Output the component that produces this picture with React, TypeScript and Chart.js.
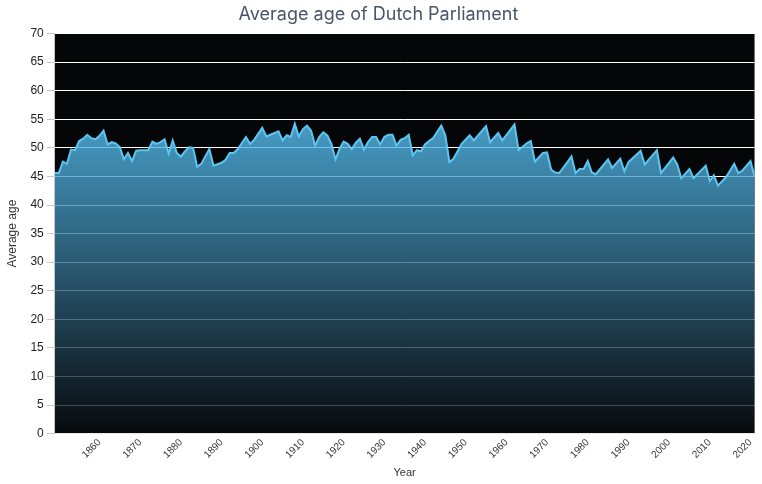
import React, { useEffect, useRef } from "react";
import { Chart, registerables } from "chart.js";

Chart.register(...registerables);

const TITLE = "Average age of Dutch Parliament";
const X_TITLE = "Year";
const Y_TITLE = "Average age";

const YEARS = [
  1849, 1850, 1851, 1852, 1853, 1854, 1855, 1856, 1857, 1858, 1859, 1860, 1861, 1862, 1863, 1864,
  1865, 1866, 1867, 1868, 1869, 1870, 1872, 1873, 1874, 1875, 1876, 1877, 1878, 1879, 1880, 1881,
  1882, 1883, 1884, 1885, 1887, 1888, 1890, 1891, 1892, 1893, 1894, 1896, 1897, 1898, 1900, 1901,
  1902, 1904, 1905, 1906, 1907, 1908, 1909, 1910, 1911, 1912, 1913, 1914, 1915, 1916, 1917, 1918,
  1919, 1920, 1921, 1922, 1923, 1924, 1925, 1926, 1927, 1928, 1929, 1930, 1931, 1932, 1933, 1934,
  1935, 1936, 1937, 1938, 1939, 1940, 1941, 1942, 1944, 1945, 1946, 1947, 1949, 1951, 1952, 1955,
  1956, 1958, 1959, 1962, 1963, 1965, 1966, 1967, 1969, 1970, 1971, 1972, 1973, 1975, 1976, 1977,
  1978, 1979, 1980, 1981, 1982, 1985, 1986, 1988, 1989, 1990, 1993, 1994, 1997, 1998, 2001, 2002,
  2003, 2005, 2006, 2009, 2010, 2011, 2012, 2014, 2016, 2017, 2018, 2020, 2021,
];

const AGES = [
  45.6, 45.6, 47.6, 47.2, 49.7, 49.6, 51.2, 51.6, 52.3, 51.7, 51.5, 52.1, 53.0, 50.6, 51.0, 50.8,
  50.1, 48.0, 49.1, 47.7, 49.5, 49.6, 49.6, 51.1, 50.7, 51.0, 51.5, 49.0, 51.3, 49.1, 48.5, 49.4,
  50.1, 50.0, 46.7, 47.2, 49.8, 46.9, 47.4, 47.9, 49.1, 49.1, 49.8, 51.9, 50.7, 51.4, 53.5, 52.0,
  52.3, 52.9, 51.3, 52.2, 51.9, 54.2, 52.0, 53.3, 53.9, 53.0, 50.4, 51.9, 52.7, 52.2, 50.7, 48.0,
  49.8, 51.1, 50.7, 49.8, 50.9, 51.6, 49.7, 51.0, 51.9, 51.9, 50.6, 51.9, 52.3, 52.3, 50.4, 51.4,
  51.7, 52.3, 48.7, 49.6, 49.4, 50.6, 51.2, 51.7, 53.9, 52.2, 47.5, 48.1, 50.7, 52.2, 51.3, 53.8,
  51.0, 52.6, 51.3, 54.1, 49.6, 50.8, 51.2, 47.6, 49.1, 49.2, 46.2, 45.7, 45.6, 47.5, 48.5, 45.6,
  46.3, 46.3, 47.7, 45.7, 45.4, 48.0, 46.5, 48.1, 45.9, 47.5, 49.5, 47.1, 49.6, 45.6, 48.3, 47.1,
  44.7, 46.3, 44.7, 46.9, 44.2, 45.2, 43.4, 44.9, 47.2, 45.6, 46.0, 47.7, 45.0,
];

const X_TICKS = [1860, 1870, 1880, 1890, 1900, 1910, 1920, 1930, 1940, 1950, 1960, 1970, 1980, 1990, 2000, 2010, 2020];

const areaBackground = {
  id: "areaBackground",
  beforeDraw(chart: any) {
    const { ctx, chartArea } = chart;
    if (!chartArea) return;
    ctx.save();
    ctx.fillStyle = "#050608";
    ctx.fillRect(chartArea.left, chartArea.top, chartArea.right - chartArea.left, chartArea.bottom - chartArea.top);
    ctx.restore();
  },
};

export default function App() {
  const ref = useRef<HTMLCanvasElement | null>(null);

  useEffect(() => {
    document.body.style.margin = "0";
    const canvas = ref.current;
    if (!canvas) return;
    const chart = new Chart(canvas, {
      type: "line",
      data: {
        datasets: [
          {
            label: Y_TITLE,
            data: YEARS.map((y, i) => ({ x: y, y: AGES[i] })),
            borderColor: "#5cc6f2",
            borderWidth: 2,
            pointRadius: 0,
            tension: 0,
            fill: "start",
            backgroundColor: (c: any) => {
              const area = c.chart.chartArea;
              if (!area) return "rgba(87,194,246,0.8)";
              const g = c.chart.ctx.createLinearGradient(0, area.top, 0, area.bottom);
              g.addColorStop(0, "rgba(87,194,246,0.8)");
              g.addColorStop(0.22, "rgba(87,194,246,0.8)");
              g.addColorStop(1, "rgba(9,11,14,0.8)");
              return g;
            },
          },
        ],
      },
      options: {
        animation: false,
        responsive: true,
        maintainAspectRatio: false,
        layout: { padding: { right: 6, top: 0, bottom: 0, left: 1 } },
        plugins: {
          legend: { display: false },
          tooltip: { enabled: false },
          title: {
            display: true,
            text: TITLE,
            color: "#4a5568",
            font: { family: "Inter", size: 18, weight: "normal" },
            padding: { top: 4, bottom: 8 },
          },
        },
        scales: {
          x: {
            type: "linear",
            min: YEARS[0],
            max: YEARS[YEARS.length - 1],
            afterBuildTicks: (axis: any) => {
              axis.ticks = X_TICKS.map((v) => ({ value: v }));
            },
            grid: { display: false, drawTicks: false },
            border: { display: false },
            ticks: {
              color: "#333",
              font: { size: 10 },
              minRotation: 45,
              maxRotation: 45,
              autoSkip: false,
              padding: 3,
              callback: (v: any) => String(v),
            },
            title: { display: true, text: X_TITLE, color: "#333", font: { size: 11 }, padding: { top: 3, bottom: 4 } },
          },
          y: {
            min: 0,
            max: 70,
            ticks: { stepSize: 5, color: "#222", font: { size: 12 } },
            grid: { color: "#ffffff", tickColor: "#c8c8c8", lineWidth: 1 },
            border: { display: true, color: "#c8c8c8" },
            title: { display: true, text: Y_TITLE, color: "#333", font: { size: 12 }, padding: { top: 4, bottom: 8 } },
          },
        },
      },
      plugins: [areaBackground],
    });
    return () => chart.destroy();
  }, []);

  return (
    <div style={{ width: 762, height: 484, position: "relative" }}>
      <canvas ref={ref} />
    </div>
  );
}
